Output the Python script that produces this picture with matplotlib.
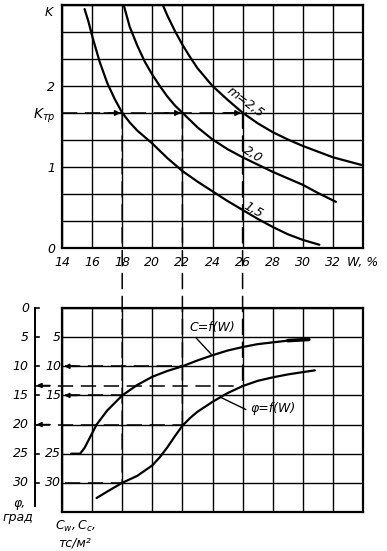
import matplotlib.pyplot as plt
from matplotlib.patches import ConnectionPatch

plt.rcParams['font.family'] = 'DejaVu Sans'
plt.rcParams['font.style'] = 'italic'
plt.rcParams['mathtext.fontset'] = 'dejavusans'
plt.rcParams['font.size'] = 9

# --- верхний график: K = f(W) при разных m ---
w_m15 = [15.5, 15.75, 16.0, 16.5, 17.0, 17.5, 18.0, 18.5, 19.0, 19.5, 20.0, 21.0, 22.0, 23.0,
         24.0, 25.0, 26.0, 27.0, 28.0, 29.0, 30.0, 31.1]
k_m15 = [2.95, 2.80, 2.62, 2.30, 2.04, 1.84, 1.67, 1.55, 1.45, 1.37, 1.29, 1.11, 0.95, 0.82,
         0.70, 0.58, 0.47, 0.36, 0.26, 0.17, 0.10, 0.04]

w_m20 = [18.1, 18.5, 19.0, 19.5, 20.0, 20.5, 21.0, 21.5, 22.0, 23.0, 24.0, 25.0, 26.0, 27.0,
         28.0, 29.0, 30.0, 31.0, 32.2]
k_m20 = [3.00, 2.73, 2.50, 2.30, 2.14, 2.00, 1.87, 1.76, 1.67, 1.49, 1.34, 1.22, 1.12, 1.03,
         0.94, 0.86, 0.78, 0.68, 0.57]

w_m25 = [20.7, 21.0, 21.5, 22.0, 22.5, 23.0, 24.0, 25.0, 26.0, 27.0, 28.0, 29.0, 30.0, 31.0,
         32.0, 33.0, 34.0]
k_m25 = [3.00, 2.87, 2.68, 2.51, 2.36, 2.22, 2.00, 1.83, 1.67, 1.54, 1.43, 1.34, 1.26, 1.19,
         1.12, 1.07, 1.02]

k_tr = 5 / 3
w_read = [18, 22, 26]          # точки пересечения K_тр с кривыми m
c_read = [15.0, 10.0, None]
phi_read = [30.0, 20.0, 13.3]

w_ticks = [14, 16, 18, 20, 22, 24, 26, 28, 30, 32, 34]
w_labels = ['14', '16', '18', '20', '22', '24', '26', '28', '30', '32', 'W, %']
k_ticks = [i / 3 for i in range(10)]
k_labels = ['0', '', '', '1', '', '$K_{тр}$', '2', '', '', '']

# --- нижний график: C и φ от W ---
w_c = [14.6, 15.2, 15.5, 15.8, 16.3, 17.0, 18.0, 19.0, 20.0, 21.0, 22.0, 23.0, 24.0, 25.0,
       26.0, 27.0, 28.0, 29.0, 30.0, 30.4]
c_val = [25.0, 25.0, 24.0, 22.5, 20.0, 17.6, 15.0, 13.2, 11.8, 10.8, 10.0, 9.0, 8.1, 7.3,
         6.7, 6.2, 5.9, 5.6, 5.45, 5.4]

w_phi = [16.3, 17.0, 18.0, 19.0, 20.0, 20.5, 21.0, 21.5, 22.0, 22.5, 23.0, 24.0, 25.0, 26.0,
         27.0, 28.0, 29.0, 30.0, 30.8]
phi_val = [32.6, 31.5, 30.0, 28.8, 27.0, 25.6, 23.9, 22.0, 20.2, 18.9, 17.8, 16.1, 14.6, 13.4,
           12.5, 11.9, 11.4, 11.0, 10.7]

v_ticks = [0, 5, 10, 15, 20, 25, 30, 35]
phi_labels = [0, 5, 10, 15, 20, 25, 30]
c_labels = [5, 10, 15, 25, 30]

W, H = 387, 551


def px(x, y):
    return x / W, 1 - y / H


fig = plt.figure(figsize=(W / 100, H / 100), dpi=100)
ax1 = fig.add_axes([62 / W, 1 - 248 / H, 301 / W, 243 / H])
ax2 = fig.add_axes([62 / W, 1 - 512 / H, 301 / W, 204 / H])

for ax in (ax1, ax2):
    ax.set_axisbelow(True)
    ax.grid(True, color='k', lw=1.0)
    for s in ax.spines.values():
        s.set_linewidth(1.6)
    ax.tick_params(length=0)

dash = (0, (10, 5))
lw_d = 1.1

# верхний
ax1.set_xlim(14, 34)
ax1.set_ylim(0, 3)
ax1.set_xticks(w_ticks)
ax1.set_xticklabels(w_labels)
ax1.set_yticks(k_ticks)
ax1.set_yticklabels(k_labels)
ax1.tick_params(axis='x', pad=6)
ax1.tick_params(axis='y', pad=5)
ax1.get_yticklabels()[5].set_fontsize(10)

for w, k in ((w_m15, k_m15), (w_m20, k_m20), (w_m25, k_m25)):
    ax1.plot(w, k, color='k', lw=1.6, solid_capstyle='round', solid_joinstyle='round')

ax1.plot([14, max(w_read) + 0.3], [k_tr, k_tr], color='k', lw=lw_d, ls=dash)
for w in w_read:
    ax1.annotate('', xy=(w - 0.1, k_tr), xytext=(w - 1.2, k_tr),
                 arrowprops=dict(arrowstyle='-|>', color='k', lw=1.1,
                                 mutation_scale=8, shrinkA=0, shrinkB=0))

ax1.text(26.15, 1.80, 'm=2,5', rotation=-37, ha='center', va='center')
ax1.text(26.7, 1.16, '2,0', rotation=-32, ha='center', va='center')
ax1.text(26.7, 0.47, '1,5', rotation=-30, ha='center', va='center')
fig.text(*px(49, 13), 'K', ha='center', va='center')

# нижний
ax2.set_xlim(14, 34)
ax2.set_ylim(35, 0)
ax2.set_xticks(w_ticks)
ax2.set_xticklabels([])
ax2.set_yticks(v_ticks)
ax2.set_yticklabels([])

ax2.plot(w_c, c_val, color='k', lw=1.6, solid_capstyle='round', solid_joinstyle='round')
ax2.plot(w_phi, phi_val, color='k', lw=1.6, solid_capstyle='round', solid_joinstyle='round')
ax2.plot(w_c[-3:], c_val[-3:], color='k', lw=2.6, solid_capstyle='round')

# ось φ слева
x_phi = 12.2
ax2.plot([x_phi, x_phi], [0, 34], color='k', lw=1.4, clip_on=False)
for v in phi_labels:
    ax2.plot([x_phi, x_phi + 0.3], [v, v], color='k', lw=1.2, clip_on=False)
    ax2.text(11.8, v, str(v), ha='right', va='center')
for v in c_labels:
    ax2.text(13.93, v, str(v), ha='right', va='center')

# вертикальные выноски от K_тр вниз
for w, p in zip(w_read, phi_read):
    con = ConnectionPatch(xyA=(w, k_tr), coordsA=ax1.transData,
                          xyB=(w, p), coordsB=ax2.transData,
                          color='k', lw=lw_d, linestyle=dash)
    fig.add_artist(con)

# горизонтальные выноски к осям
for w, c in zip(w_read, c_read):
    if c is None:
        continue
    ax2.plot([14.2, w], [c, c], color='k', lw=lw_d, ls=dash)
    ax2.annotate('', xy=(14.15, c), xytext=(15.0, c),
                 arrowprops=dict(arrowstyle='-|>', color='k', lw=1.1,
                                 mutation_scale=7, shrinkA=0, shrinkB=0),
                 annotation_clip=False)
for w, p in zip(w_read, phi_read):
    x0 = 14.2 if p >= 30 else x_phi
    ax2.plot([x0, w], [p, p], color='k', lw=lw_d, ls=dash, clip_on=False)
    if p < 30:
        ax2.annotate('', xy=(x_phi + 0.1, p), xytext=(x_phi + 1.0, p),
                     arrowprops=dict(arrowstyle='-|>', color='k', lw=1.1,
                                     mutation_scale=7, shrinkA=0, shrinkB=0),
                     annotation_clip=False)

ax2.text(24.0, 3.4, 'C=f(W)', ha='center', va='center')
ax2.plot([22.9, 23.9], [5.1, 7.9], color='k', lw=1.0)
ax2.text(28.0, 17.2, 'φ=f(W)', ha='center', va='center')
ax2.plot([24.6, 26.2], [15.4, 17.4], color='k', lw=1.0)

fig.text(*px(20, 503), 'φ,', ha='center', va='center')
fig.text(*px(18, 517), 'град', ha='center', va='center')
fig.text(*px(75, 526), '$C_w, C_c,$', ha='center', va='center')
fig.text(*px(75, 543), 'тс/м²', ha='center', va='center')

fig.savefig('out.png', dpi=100, facecolor='white')
